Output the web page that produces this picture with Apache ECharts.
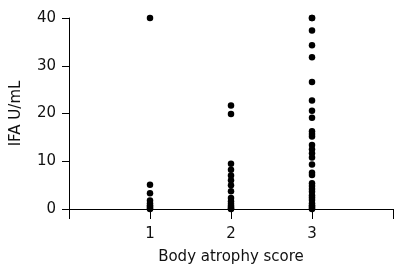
<!DOCTYPE html>
<html>
<head>
<meta charset="utf-8">
<script src="https://cdn.jsdelivr.net/npm/echarts@6/dist/echarts.min.js"></script>
<style>
  html, body { margin: 0; padding: 0; background: #fff; }
  #scatterChart { width: 404px; height: 271px; }
</style>
</head>
<body>
<div id="scatterChart"></div>
<script>
// 各组 IFA 数值
const score1 = [40, 5.1, 3.3, 1.8, 1.2, 0.8, 0.5, 0.2, 0];
const score2 = [21.7, 19.9, 9.5, 8.2, 7, 6, 5, 3.7, 2.3, 1.6, 1.1, 0.7, 0.4, 0.1, 0];
const score3 = [40, 40, 37.4, 34.3, 31.8, 26.6, 22.7, 20.6, 19.1, 16.3, 15.7, 15.2, 13.4, 12.5,
  11.7, 10.8, 9.3, 7.6, 7.1, 5.4, 4.8, 4.2, 3.6, 2.9, 2.4, 1.9, 1.2, 0.8, 0.5, 0.2, 0];
const xTicks = ['', '1', '2', '3', ''];
const yMax = 40;

const font = 'DejaVu Sans';

function toPoints(x, vals) {
  return vals.map(v => [x, v]);
}

let myChart = echarts.init(document.getElementById('scatterChart'));
let option = {
  animation: false,
  grid: {
    left: 69,
    right: 11,
    top: 18,
    bottom: 62,
  },
  xAxis: {
    type: 'value',
    min: 0,
    max: 4,
    interval: 1,
    name: 'Body atrophy score',
    nameLocation: 'middle',
    nameGap: 41,
    nameTextStyle: { color: '#111', fontSize: 15, fontFamily: font },
    splitLine: { show: false },
    axisLine: { lineStyle: { color: '#000', width: 1 } },
    axisTick: { length: 10, lineStyle: { color: '#000' } },
    axisLabel: {
      color: '#111',
      fontSize: 15,
      fontFamily: font,
      margin: 18,
      formatter: v => xTicks[v] || '',
    },
  },
  yAxis: {
    type: 'value',
    min: 0,
    max: yMax,
    interval: 10,
    name: 'IFA U/mL',
    nameLocation: 'middle',
    nameRotate: 90,
    nameGap: 45,
    nameTextStyle: { color: '#111', fontSize: 15, fontFamily: font },
    splitLine: { show: false },
    axisLine: { show: true, lineStyle: { color: '#000', width: 1 } },
    axisTick: { show: true, length: 7, lineStyle: { color: '#000' } },
    axisLabel: { color: '#111', fontSize: 15, fontFamily: font, margin: 13 },
  },
  series: [score1, score2, score3].map((vals, i) => ({
    type: 'scatter',
    symbol: 'circle',
    symbolSize: 6.5,
    itemStyle: { color: '#000', opacity: 1 },
    data: toPoints(i + 1, vals),
  })),
};
myChart.setOption(option);
</script>
</body>
</html>
